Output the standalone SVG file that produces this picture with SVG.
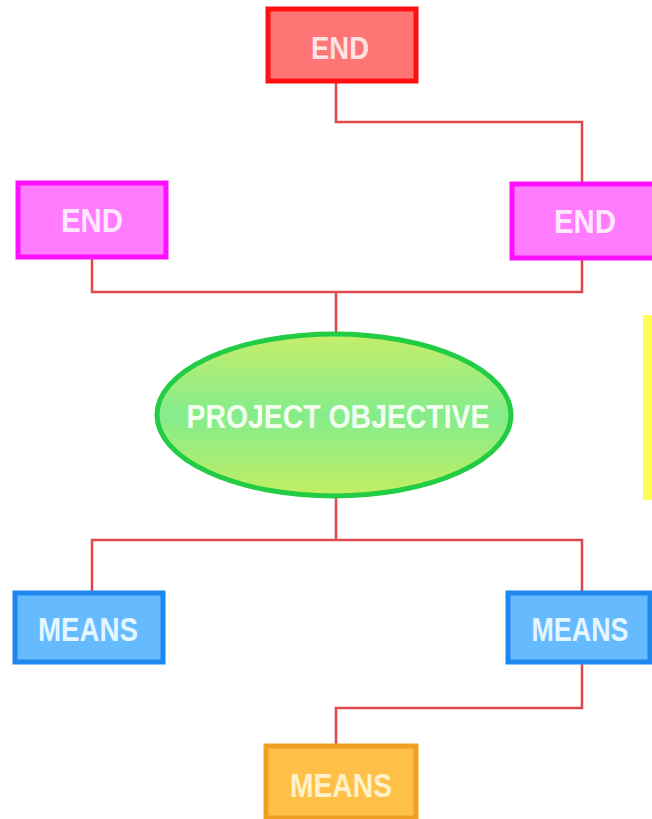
<svg xmlns="http://www.w3.org/2000/svg" width="652" height="819" viewBox="0 0 652 819">
<defs>
<linearGradient id="g" x1="0" y1="0" x2="0" y2="1">
<stop offset="0" stop-color="#c6ee6a"/>
<stop offset="0.5" stop-color="#84ec8c"/>
<stop offset="1" stop-color="#c2ee62"/>
</linearGradient>
<style>
.c{fill:none;stroke:#e04848;stroke-width:2.5}
.t{font-family:"Liberation Sans",Arial,sans-serif;font-weight:bold;text-anchor:middle}
.red{fill:#ff7474;stroke:#ff1010;stroke-width:5}
.mag{fill:#ff7cff;stroke:#ff10ff;stroke-width:5}
.blu{fill:#66bbff;stroke:#1e88f0;stroke-width:5}
.org{fill:#ffc048;stroke:#f0a020;stroke-width:5}
</style>
</defs>
<rect width="652" height="819" fill="#ffffff"/>
<g id="connectors">
<polyline class="c" points="336,82 336,122 582,122 582,182"/>
<polyline class="c" points="92,258 92,292 582,292 582,260"/>
<line class="c" x1="336" y1="292" x2="336" y2="332"/>
<line class="c" x1="336" y1="498" x2="336" y2="540"/>
<polyline class="c" points="92,592 92,540 582,540 582,592"/>
<polyline class="c" points="582,662 582,708 336,708 336,745"/>
</g>
<g id="end-top">
<rect class="red" x="268" y="9" width="148" height="72"/>
<text class="t" x="340" y="59" font-size="32" fill="#ffe4e4" textLength="58" lengthAdjust="spacingAndGlyphs">END</text>
</g>
<g id="end-left">
<rect class="mag" x="18" y="183" width="148" height="74"/>
<text class="t" x="92" y="232" font-size="33" fill="#ffe8ff" textLength="62" lengthAdjust="spacingAndGlyphs">END</text>
</g>
<g id="end-right">
<rect class="mag" x="512" y="184" width="150" height="74"/>
<text class="t" x="585" y="233" font-size="33" fill="#ffe8ff" textLength="62" lengthAdjust="spacingAndGlyphs">END</text>
</g>
<g id="objective">
<ellipse cx="334" cy="415" rx="177" ry="81" fill="url(#g)" stroke="#22cc44" stroke-width="5"/>
<text class="t" x="338" y="428" font-size="33" fill="#f4fff0" textLength="303" lengthAdjust="spacingAndGlyphs">PROJECT OBJECTIVE</text>
</g>
<rect id="yellow-bar" x="643" y="315" width="9" height="185" fill="#ffff55"/>
<g id="means-left">
<rect class="blu" x="15" y="593" width="148" height="69"/>
<text class="t" x="88" y="641" font-size="33" fill="#e4f6ff" textLength="100" lengthAdjust="spacingAndGlyphs">MEANS</text>
</g>
<g id="means-right">
<rect class="blu" x="508" y="593" width="142" height="69"/>
<text class="t" x="580" y="641" font-size="33" fill="#e4f6ff" textLength="97" lengthAdjust="spacingAndGlyphs">MEANS</text>
</g>
<g id="means-bottom">
<rect class="org" x="266" y="746" width="150" height="72"/>
<text class="t" x="341" y="797" font-size="33" fill="#fff2c8" textLength="102" lengthAdjust="spacingAndGlyphs">MEANS</text>
</g>
</svg>
